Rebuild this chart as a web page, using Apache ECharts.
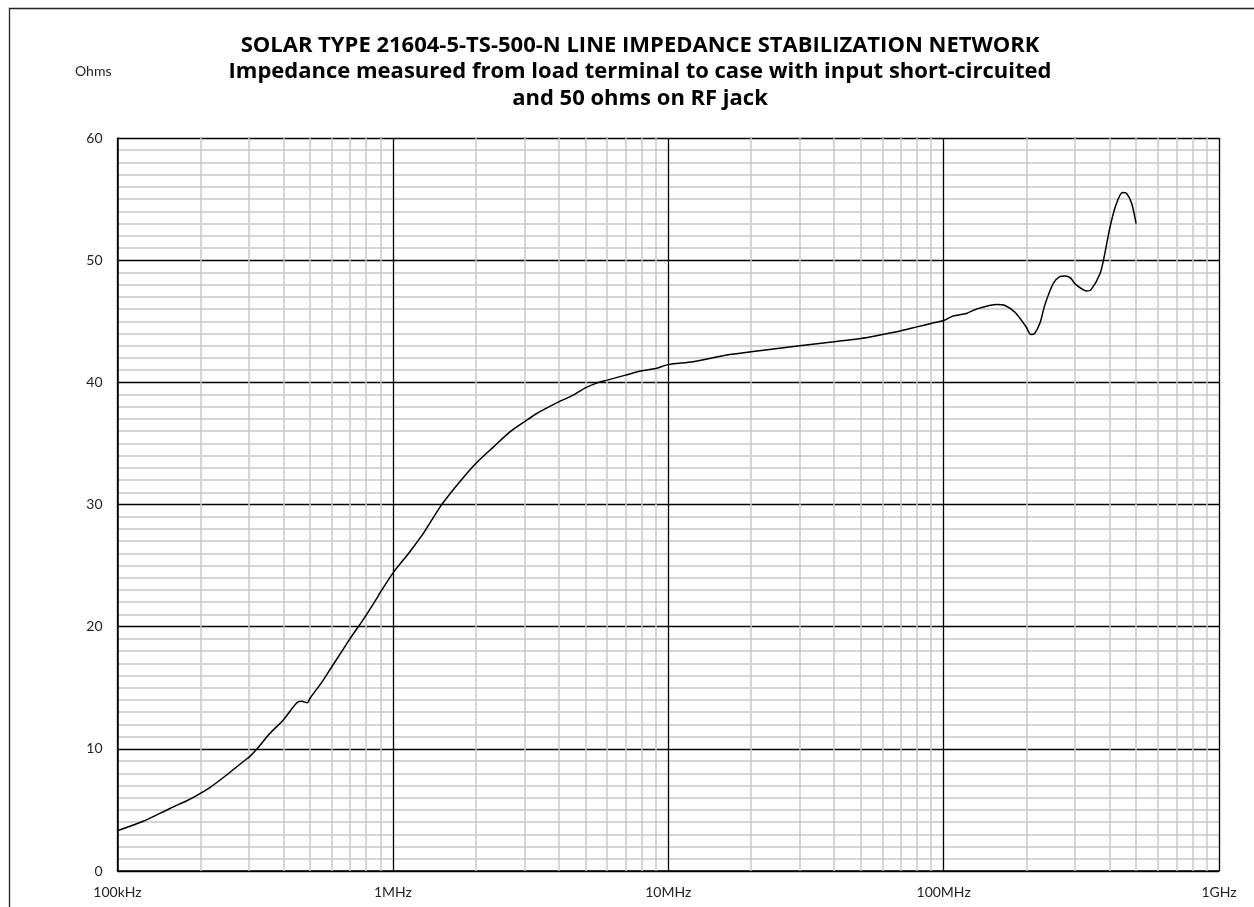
<!DOCTYPE html>
<html>
<head>
<meta charset="utf-8">
<script src="https://cdn.jsdelivr.net/npm/echarts@6/dist/echarts.min.js"></script>
<style>
html,body{margin:0;padding:0;background:#fff;}
#chart{width:1254px;height:907px;}
</style>
</head>
<body>
<div id="chart"></div>
<script>
// Frequency in MHz
const freqMHz = [0.1,0.124,0.155,0.183,0.2,0.217,0.249,0.294,0.3,0.32,0.358,0.4,0.448,0.467,0.489,0.5,0.559,0.6,0.634,0.7,0.749,0.8,0.873,0.9,1.0,1.09,1.153,1.29,1.5,1.75,2.0,2.32,2.66,3.0,3.33,4.0,4.52,5.0,5.65,6.0,7.0,8.0,9.0,10,12.3,16.3,20,30,40,50,60,70,80,90,100,108,121,132,156,167,182,200,207,214,224,233,250,264,276,289,300,330,342,370,385,401,422,446,462,482,500];
// Impedance in ohms
const ohms = [3.3,4.07,5.12,5.87,6.36,6.85,7.86,9.17,9.3,9.96,11.27,12.36,13.77,13.89,13.77,14.13,15.63,16.72,17.54,19.04,19.99,20.95,22.3,22.8,24.38,25.45,26.13,27.63,29.95,31.86,33.36,34.72,35.95,36.77,37.45,38.4,38.95,39.55,40.04,40.18,40.59,40.94,41.13,41.45,41.68,42.23,42.5,42.99,43.32,43.59,43.92,44.22,44.54,44.82,45.06,45.42,45.64,46.01,46.37,46.29,45.72,44.49,43.92,44.0,44.87,46.32,48.09,48.65,48.7,48.55,48.06,47.48,47.55,48.91,50.55,52.6,54.5,55.54,55.46,54.64,53.0];
const xTickValues = [0.1,1,10,100,1000];
const xTickLabels = ['100kHz','1MHz','10MHz','100MHz','1GHz'];
const titleLines = [
  'SOLAR TYPE 21604-5-TS-500-N LINE IMPEDANCE STABILIZATION NETWORK',
  'Impedance measured from load terminal to case with input short-circuited',
  'and 50 ohms on RF jack'
];

const minorX = [];
[0.1,1,10,100].forEach(d => { for (let k = 2; k <= 9; k++) minorX.push(+(d*k).toPrecision(6)); });

const curve = freqMHz.map((f,i) => [f, ohms[i]]);
const FONT = 'Lato, "Open Sans", sans-serif';
const TFONT = '"Open Sans", Lato, sans-serif';
const titleY = [46, 72, 98.5];

const chart = echarts.init(document.getElementById('chart'));
chart.setOption({
  animation: false,
  backgroundColor: '#fff',
  graphic: [
    {type: 'rect', z: -10, silent: true, shape: {x: 9.5, y: 8.5, width: 1400, height: 1000},
     style: {fill: 'none', stroke: '#222', lineWidth: 1.3}},
    {type: 'text', x: 75, y: 71, style: {text: 'Ohms', fontFamily: FONT, fontSize: 14, fill: '#222', verticalAlign: 'middle'}}
  ].concat(titleLines.map((t, i) => ({
    type: 'text', x: 640, y: titleY[i], silent: true,
    style: {text: t, align: 'center', verticalAlign: 'middle', fontFamily: TFONT, fontWeight: 'bold', fontSize: 22, fill: '#000'}
  }))),
  grid: {left: 117.5, top: 138, right: 35, bottom: 36, containLabel: false},
  xAxis: {
    type: 'log', logBase: 10, min: 0.1, max: 1000, z: 1,
    axisLine: {show: true, onZero: false, lineStyle: {color: '#000', width: 1.5}},
    axisTick: {show: false},
    splitLine: {show: true, lineStyle: {color: '#000', width: 1.3}},
    axisLabel: {
      margin: 14, fontFamily: FONT, fontSize: 14, color: '#222',
      formatter: v => { const i = xTickValues.findIndex(t => Math.abs(Math.log10(t) - Math.log10(v)) < 1e-6); return i >= 0 ? xTickLabels[i] : ''; }
    }
  },
  yAxis: {
    type: 'value', min: 0, max: 60, interval: 10, z: 1,
    axisLine: {show: true, lineStyle: {color: '#000', width: 1.5}},
    axisTick: {show: false},
    splitLine: {show: true, lineStyle: {color: '#000', width: 1.3}},
    minorTick: {show: false, splitNumber: 10},
    minorSplitLine: {show: true, lineStyle: {color: '#c8c8c8', width: 1.5}},
    axisLabel: {margin: 15, fontFamily: FONT, fontSize: 14, color: '#222'}
  },
  series: [
    {
      type: 'line', data: [], z: 0, silent: true,
      markLine: {
        silent: true, symbol: ['none','none'], animation: false,
        label: {show: false},
        lineStyle: {color: '#c8c8c8', width: 1.5, type: 'solid'},
        data: minorX.map(v => ({xAxis: v}))
      }
    },
    {
      type: 'line', data: curve, z: 5, showSymbol: false, smooth: 0.25,
      lineStyle: {color: '#000', width: 1.5}
    }
  ]
});
</script>
</body>
</html>
